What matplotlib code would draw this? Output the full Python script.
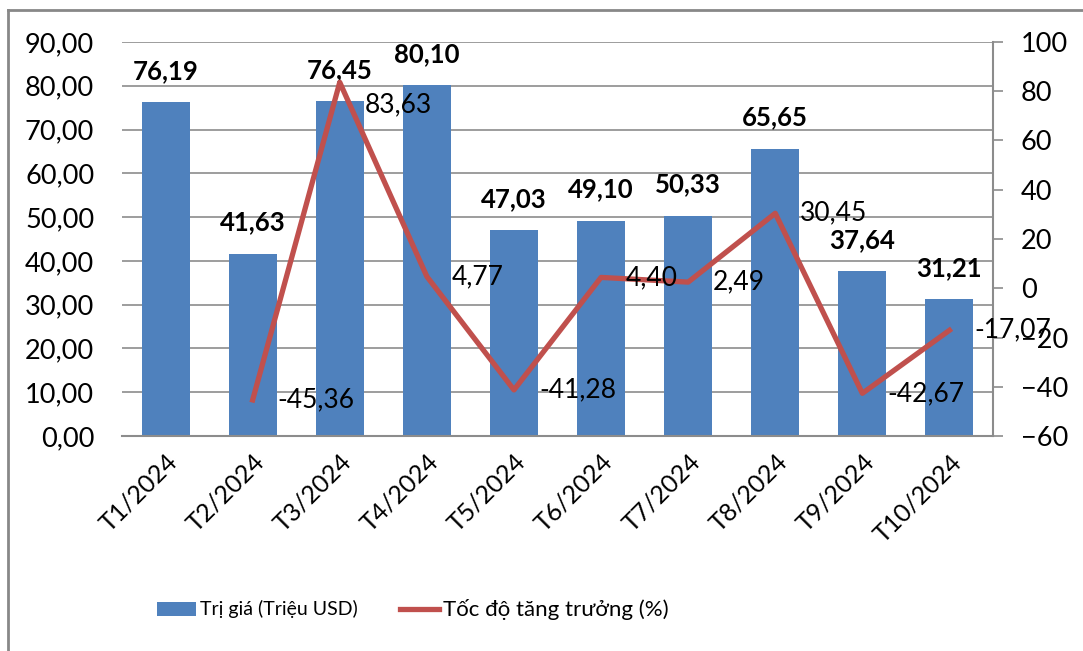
import matplotlib.pyplot as plt
from matplotlib.lines import Line2D
from matplotlib.patches import Patch

plt.rcParams['font.family'] = ['Lato', 'DejaVu Sans']

# Data
months = ['T1/2024', 'T2/2024', 'T3/2024', 'T4/2024', 'T5/2024',
          'T6/2024', 'T7/2024', 'T8/2024', 'T9/2024', 'T10/2024']
values = [76.19, 41.63, 76.45, 80.10, 47.03, 49.10, 50.33, 65.65, 37.64, 31.21]
growth = [None, -45.36, 83.63, 4.77, -41.28, 4.40, 2.49, 30.45, -42.67, -17.07]

bar_color = '#4F81BD'
line_color = '#C0504D'
grid_color = '#8C8C8C'

def vn(v):
    return f'{v:.2f}'.replace('.', ',')

W, H = 1083, 651
fig = plt.figure(figsize=(W / 100, H / 100), dpi=100)
ax = fig.add_axes([122 / W, 1 - 436 / H, (993 - 122) / W, (436 - 42) / H])
ax2 = ax.twinx()

x = list(range(len(months)))
ax.bar(x, values, width=0.55, color=bar_color, zorder=2)
ax.set_xlim(-0.5, len(months) - 0.5)
ax.set_ylim(0, 90)
ax.set_yticks(range(0, 91, 10))
ax.set_yticklabels([vn(t) for t in range(0, 91, 10)])
ax.yaxis.grid(True, color=grid_color, linewidth=1.2, zorder=0)
ax.set_axisbelow(True)
ax.tick_params(axis='y', length=0, pad=20, labelsize=19.5)
ax.set_xticks(x)
ax.set_xticklabels(months, rotation=45, ha='right', va='top', rotation_mode='anchor', fontsize=18)
ax.tick_params(axis='x', length=0, pad=10)
for s in ['top', 'left', 'right']:
    ax.spines[s].set_visible(False)
ax.spines['bottom'].set_color(grid_color)
ax.spines['bottom'].set_linewidth(1.5)

# bar value labels
for xi, v in zip(x, values):
    ax.annotate(vn(v), (xi, v), xytext=(0, 14), textcoords='offset points',
                ha='center', va='bottom', fontsize=18.5, fontweight='bold', zorder=5)

# growth line
gx = [xi for xi, g in zip(x, growth) if g is not None]
gy = [g for g in growth if g is not None]
ax2.plot(gx, gy, color=line_color, linewidth=3.8, zorder=3)
ax2.set_ylim(-60, 100)
ax2.set_yticks(range(-60, 101, 20))
ax2.tick_params(axis='y', length=7, width=1.2, color=grid_color, pad=13, labelsize=19.5)
for s in ['top', 'left', 'bottom']:
    ax2.spines[s].set_visible(False)
ax2.spines['right'].set_color(grid_color)
ax2.spines['right'].set_linewidth(1.5)

for xi, g in zip(gx, gy):
    dy = -16 if g > 80 else 0
    ax2.annotate(vn(g), (xi, g), xytext=(18, dy), textcoords='offset points',
                 ha='left', va='center', fontsize=19, zorder=5)

# legend
handles = [Patch(facecolor=bar_color, label='Trị giá (Triệu USD)'),
           Line2D([0], [0], color=line_color, linewidth=3.8, label='Tốc độ tăng trưởng (%)')]
leg = fig.legend(handles=handles, loc='center', bbox_to_anchor=(0.381, 1 - 609 / H),
                 ncol=2, frameon=False, fontsize=14, handlelength=2.0,
                 columnspacing=2.2, handletextpad=0.2)
leg.get_texts()[1].set_fontsize(16)

# outer frame (top and left edges)
fig.add_artist(Line2D([8 / W, 8 / W], [0, 1 - 10 / H], color='#888888', linewidth=2,
                      transform=fig.transFigure))
fig.add_artist(Line2D([8 / W, 1], [1 - 10 / H, 1 - 10 / H], color='#888888', linewidth=2,
                      transform=fig.transFigure))

fig.savefig('out.png', dpi=100, facecolor='white')
